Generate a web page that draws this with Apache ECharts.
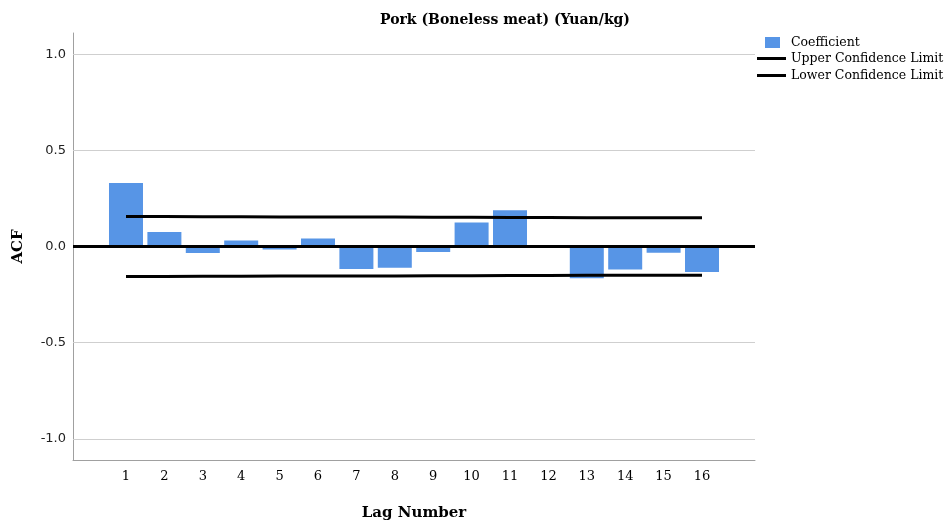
<!DOCTYPE html>
<html>
<head>
<meta charset="utf-8">
<title>Pork (Boneless meat) (Yuan/kg) ACF</title>
<script src="https://cdn.jsdelivr.net/npm/echarts@6/dist/echarts.min.js"></script>
<style>
  html, body { margin: 0; padding: 0; background: #fff; }
  #chart { width: 944px; height: 526px; }
</style>
</head>
<body>
<div id="chart"></div>
<script>
// Autocorrelation coefficients by lag, with confidence limits
const lags = [1, 2, 3, 4, 5, 6, 7, 8, 9, 10, 11, 12, 13, 14, 15, 16];
const coefficient = [0.330, 0.076, -0.034, 0.031, -0.015, 0.041, -0.117, -0.110,
                     -0.029, 0.125, 0.189, 0.000, -0.165, -0.120, -0.033, -0.132];
const upperLimit = [0.156, 0.156, 0.155, 0.155, 0.154, 0.154, 0.153, 0.153,
                    0.152, 0.152, 0.151, 0.151, 0.150, 0.150, 0.149, 0.149];
const lowerLimit = upperLimit.map(v => -v);
const yTicks = [-1.0, -0.5, 0.0, 0.5, 1.0];

const serif = 'DejaVu Serif';
const sans = 'DejaVu Sans';

const chart = echarts.init(document.getElementById('chart'), null, { renderer: 'canvas' });

chart.setOption({
  animation: false,
  backgroundColor: '#ffffff',
  title: {
    text: 'Pork (Boneless meat) (Yuan/kg)',
    left: 500, top: 8, textAlign: 'center',
    textStyle: { fontFamily: serif, fontWeight: 'bold', fontSize: 14, color: '#000' }
  },
  legend: [
    {
      data: ['Coefficient'],
      orient: 'vertical', left: 765, top: 36, padding: 0,
      icon: 'rect',
      itemWidth: 15, itemHeight: 11, itemGap: 4,
      textStyle: { fontFamily: serif, fontSize: 12.5, color: '#000', padding: [0, 0, 0, 6] }
    },
    {
      data: ['Upper Confidence Limit', 'Lower Confidence Limit'],
      orient: 'vertical', left: 757, top: 52, padding: 0,
      itemWidth: 29, itemHeight: 3, itemGap: 4,
      icon: 'rect',
      textStyle: { fontFamily: serif, fontSize: 12.5, color: '#000' }
    }
  ],
  grid: { left: 73, right: 189, top: 33, bottom: 61, containLabel: false },
  xAxis: {
    type: 'value',
    min: -0.38, max: 17.38,
    name: 'Lag Number', nameLocation: 'middle', nameGap: 46,
    nameTextStyle: { fontFamily: serif, fontWeight: 'bold', fontSize: 15, color: '#000' },
    axisLine: { show: true, onZero: false, lineStyle: { color: '#a0a0a0', width: 1 } },
    axisTick: { show: false },
    splitLine: { show: false },
    axisLabel: {
      customValues: lags,
      margin: 10,
      fontFamily: serif, fontSize: 13, color: '#000'
    }
  },
  yAxis: {
    type: 'value',
    min: -1.11, max: 1.11,
    name: 'ACF', nameLocation: 'middle', nameGap: 47, nameRotate: 90,
    nameTextStyle: { fontFamily: serif, fontWeight: 'bold', fontSize: 15, color: '#000' },
    axisLine: { show: true, onZero: false, lineStyle: { color: '#a0a0a0', width: 1 } },
    axisTick: { show: false },
    axisLabel: {
      customValues: yTicks,
      formatter: v => v.toFixed(1),
      margin: 7,
      fontFamily: sans, fontSize: 13, color: '#222'
    },
    splitLine: { show: false }
  },
  series: [
    {
      name: 'Coefficient',
      type: 'bar',
      barWidth: 34,
      data: lags.map((lag, i) => [lag, coefficient[i]]),
      itemStyle: { color: '#5795e6' },
      markLine: {
        silent: true, symbol: 'none', label: { show: false },
        lineStyle: { color: '#cfcfcf', width: 1, type: 'solid' },
        data: yTicks.filter(v => v !== 0).map(v => ({ yAxis: v }))
      },
      z: 2
    },
    {
      name: 'Upper Confidence Limit',
      type: 'line',
      data: lags.map((lag, i) => [lag, upperLimit[i]]),
      showSymbol: false, symbol: 'none',
      lineStyle: { color: '#000', width: 3 },
      itemStyle: { color: '#000' },
      z: 4
    },
    {
      name: 'Lower Confidence Limit',
      type: 'line',
      data: lags.map((lag, i) => [lag, lowerLimit[i]]),
      showSymbol: false, symbol: 'none',
      lineStyle: { color: '#000', width: 3 },
      itemStyle: { color: '#000' },
      markLine: {
        silent: true, symbol: 'none', label: { show: false },
        lineStyle: { color: '#000', width: 3, type: 'solid' },
        data: [{ yAxis: 0 }]
      },
      z: 4
    }
  ]
});
</script>
</body>
</html>
